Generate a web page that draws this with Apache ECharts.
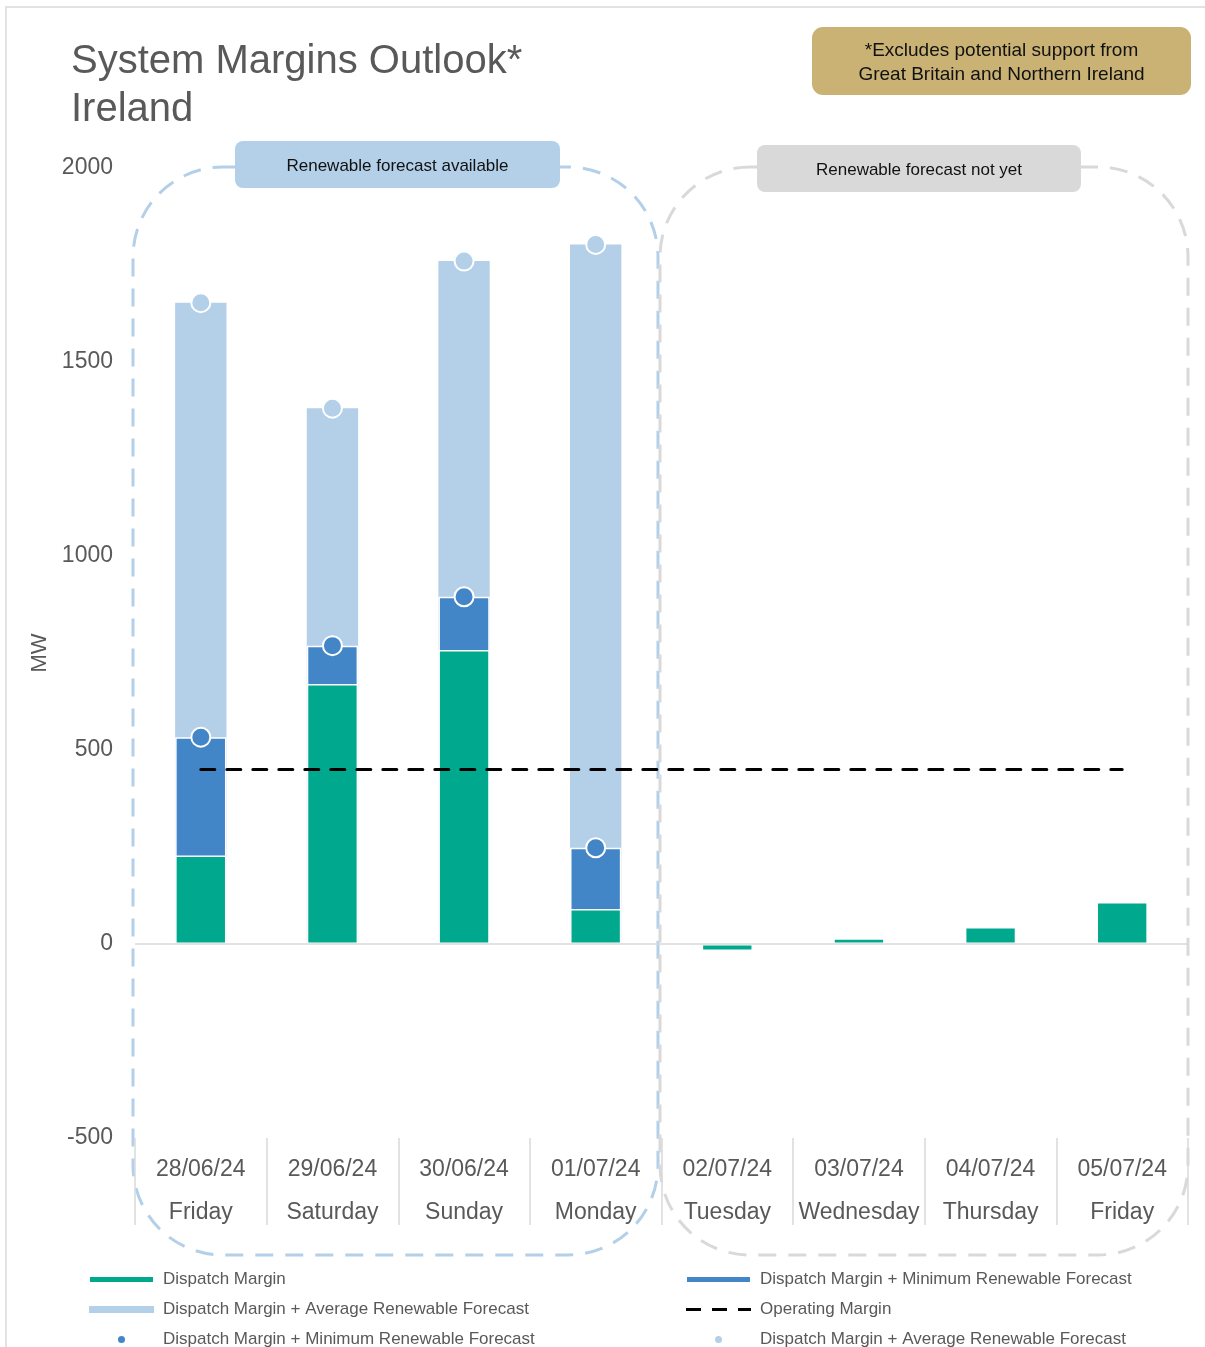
<!DOCTYPE html>
<html>
<head>
<meta charset="utf-8">
<script src="https://cdn.jsdelivr.net/npm/echarts@6/dist/echarts.min.js"></script>
<style>
  html, body { margin: 0; padding: 0; background: #fff; }
  #main { width: 1205px; height: 1347px; }
</style>
</head>
<body>
<div id="main"></div>
<script>
// 日期和星期
const dates = ['28/06/24', '29/06/24', '30/06/24', '01/07/24', '02/07/24', '03/07/24', '04/07/24', '05/07/24'];
const days = ['Friday', 'Saturday', 'Sunday', 'Monday', 'Tuesday', 'Wednesday', 'Thursday', 'Friday'];
// MW
const dispatchMargin = [228, 670, 758, 90, -18, 15, 44, 108];
const minForecast = [533, 769, 895, 248, null, null, null, null];
const avgForecast = [1653, 1381, 1760, 1803, null, null, null, null];
const operatingMargin = [450, 450, 450, 450, 450, 450, 450, 450];
const yTicks = [-500, 0, 500, 1000, 1500, 2000];

const FONT = '"Liberation Sans", Arial, sans-serif';
const GREEN = '#00A88E';
const DARK = '#4386C8';
const LIGHT = '#B3D0E8';
const GREY_TXT = '#595959';

const chart = echarts.init(document.getElementById('main'), null, { renderer: 'canvas' });

// 图例公共样式
const legendBase = {
  orient: 'vertical',
  top: 1271,
  height: 90,
  padding: 0,
  itemWidth: 65,
  itemHeight: 7,
  itemGap: 13,
  selectedMode: false,
  textStyle: { fontFamily: FONT, fontSize: 17, lineHeight: 16, color: GREY_TXT, padding: [0, 0, 0, 4] }
};
const dashIcon = 'path://M0,0h15v3h-15z M26,0h15v3h-15z M52,0h13v3h-13z';

const option = {
  animation: false,
  backgroundColor: '#fff',
  textStyle: { fontFamily: FONT },
  title: {
    text: 'System Margins Outlook*\nIreland',
    left: 66,
    top: 33,
    textStyle: { fontFamily: FONT, fontSize: 40, lineHeight: 48, fontWeight: 'normal', color: GREY_TXT }
  },
  grid: { left: 135, right: 17, top: 168, bottom: 209 },
  legend: [Object.assign({}, legendBase, {
    left: 88,
    data: [
      { name: 'Dispatch Margin', icon: 'rect' },
      { name: 'Dispatch Margin + Average Renewable Forecast', icon: 'rect' },
      { name: 'Dispatch Margin + Minimum Renewable Forecast ', icon: 'circle', itemStyle: { borderWidth: 0 } }
    ]
  }), Object.assign({}, legendBase, {
    left: 685,
    data: [
      { name: 'Dispatch Margin + Minimum Renewable Forecast', icon: 'rect' },
      { name: 'Operating Margin', icon: dashIcon },
      { name: 'Dispatch Margin + Average Renewable Forecast ', icon: 'circle', itemStyle: { borderWidth: 0 } }
    ]
  })],
  xAxis: {
    type: 'category',
    data: dates,
    boundaryGap: true,
    axisLine: { show: false, onZero: false },
    axisTick: { show: true, length: 87, lineStyle: { color: '#D9D9D9', width: 1.5 } },
    axisLabel: {
      margin: 10,
      interval: 0,
      color: GREY_TXT,
      fontFamily: FONT,
      fontSize: 23,
      lineHeight: 43,
      formatter: function (v, i) { return v + '\n' + days[i]; }
    }
  },
  yAxis: {
    type: 'value',
    min: yTicks[0],
    max: yTicks[yTicks.length - 1],
    interval: 500,
    name: 'MW',
    nameLocation: 'middle',
    nameGap: 84,
    nameRotate: 90,
    nameTextStyle: { fontFamily: FONT, fontSize: 22, color: GREY_TXT },
    axisLine: { show: false },
    axisTick: { show: false },
    splitLine: { show: false },
    axisLabel: {
      margin: 22, color: GREY_TXT, fontFamily: FONT, fontSize: 23,
      formatter: function (v) { return String(v); }
    }
  },
  graphic: [
    // 外框
    { type: 'rect', z: -10, shape: { x: 6, y: 7, width: 1210, height: 1350 }, style: { fill: 'none', stroke: '#D9D9D9', lineWidth: 1.5 } },
    // 虚线圆角框
    { type: 'rect', z: -5, shape: { x: 133, y: 167, width: 525, height: 1088, r: 90 }, style: { fill: 'none', stroke: LIGHT, lineWidth: 3, lineDash: [18, 12] } },
    { type: 'rect', z: -5, shape: { x: 660, y: 167, width: 528, height: 1088, r: 90 }, style: { fill: 'none', stroke: '#D9D9D9', lineWidth: 3, lineDash: [18, 12] } },
    {
      type: 'group', left: 235, top: 141, z: 20,
      children: [
        { type: 'rect', shape: { width: 325, height: 47, r: 8 }, style: { fill: LIGHT } },
        { type: 'text', style: { x: 162.5, y: 25, text: 'Renewable forecast available', align: 'center', verticalAlign: 'middle', fontFamily: FONT, fontSize: 17, fill: '#111' } }
      ]
    },
    {
      type: 'group', left: 757, top: 145, z: 20,
      children: [
        { type: 'rect', shape: { width: 324, height: 47, r: 8 }, style: { fill: '#D9D9D9' } },
        { type: 'text', style: { x: 162, y: 25, text: 'Renewable forecast not yet', align: 'center', verticalAlign: 'middle', fontFamily: FONT, fontSize: 17, fill: '#111' } }
      ]
    },
    {
      type: 'group', left: 812, top: 27, z: 20,
      children: [
        { type: 'rect', shape: { width: 379, height: 68, r: 11 }, style: { fill: '#C9B274' } },
        { type: 'text', style: { x: 189.5, y: 36, text: '*Excludes potential support from\nGreat Britain and Northern Ireland', align: 'center', verticalAlign: 'middle', fontFamily: FONT, fontSize: 19, lineHeight: 24, fill: '#111' } }
      ]
    }
  ],
  series: [
    {
      name: 'Dispatch Margin + Average Renewable Forecast',
      type: 'bar',
      barWidth: '39%',
      barGap: '-100%',
      itemStyle: { color: LIGHT },
      data: avgForecast
    },
    {
      name: 'Dispatch Margin + Minimum Renewable Forecast',
      type: 'bar',
      barWidth: '39%',
      barGap: '-100%',
      itemStyle: { color: DARK, borderColor: '#fff', borderWidth: 1.5 },
      data: minForecast
    },
    {
      name: 'Dispatch Margin',
      type: 'bar',
      barWidth: '39%',
      barGap: '-100%',
      itemStyle: { color: GREEN, borderColor: '#fff', borderWidth: 1.5 },
      data: dispatchMargin,
      markLine: {
        silent: true,
        symbol: 'none',
        label: { show: false },
        lineStyle: { color: '#D9D9D9', width: 1.5, type: 'solid' },
        data: [{ yAxis: 0 }]
      }
    },
    {
      name: 'Operating Margin',
      type: 'line',
      symbol: 'none',
      z: 4,
      lineStyle: { color: '#000', width: 3, type: [14, 12], cap: 'round' },
      itemStyle: { color: '#000' },
      data: operatingMargin
    },
    {
      name: 'Dispatch Margin + Minimum Renewable Forecast ',
      type: 'scatter',
      symbolSize: 19,
      z: 5,
      itemStyle: { color: DARK, borderColor: '#fff', borderWidth: 2, opacity: 1 },
      data: minForecast
    },
    {
      name: 'Dispatch Margin + Average Renewable Forecast ',
      type: 'scatter',
      symbolSize: 19,
      z: 5,
      itemStyle: { color: LIGHT, borderColor: '#fff', borderWidth: 2, opacity: 1 },
      data: avgForecast
    }
  ]
};

chart.setOption(option);
</script>
</body>
</html>
